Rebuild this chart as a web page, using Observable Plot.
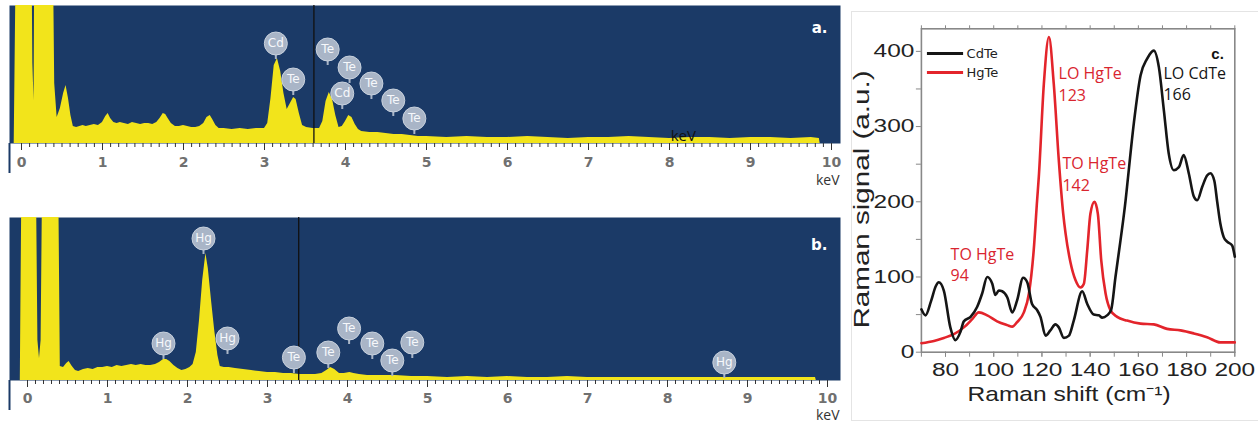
<!DOCTYPE html>
<html><head><meta charset="utf-8">
<script src="https://cdn.jsdelivr.net/npm/d3@7"></script>
<script src="https://cdn.jsdelivr.net/npm/@observablehq/plot@0.6"></script>
<style>
body{margin:0;background:#fff;}
#wrap{position:relative;width:1258px;height:427px;overflow:hidden;background:#fff;}
#wrap svg{position:absolute;}
#boxC{position:absolute;left:851px;top:11px;width:420px;height:408px;border:1px solid #e4e4e4;}
</style></head><body>
<div id="wrap"><div id="boxC"></div></div>
<script>
// ---------- DATA ----------
// EDS spectrum a (CdTe): [keV, counts]
const spectrumA = [[-0.09,0],[-0.05,300],[0.12,300],[0.14,80],[0.155,43],[0.17,300],[0.38,300],[0.41,60],[0.44,26],[0.48,35],[0.52,50],[0.55,58],[0.58,45],[0.61,28],[0.64,17],[0.68,16],[0.72,17],[0.76,18],[0.8,17],[0.85,18],[0.9,19],[0.95,18],[1.0,21],[1.04,27],[1.07,30],[1.1,25],[1.14,21],[1.18,20],[1.22,21],[1.27,20],[1.32,19],[1.37,21],[1.42,20],[1.47,19],[1.52,20],[1.57,20],[1.62,19],[1.67,21],[1.71,25],[1.75,30],[1.78,29],[1.81,25],[1.85,20],[1.9,17],[1.95,17],[2.0,18],[2.05,17],[2.1,16],[2.15,16],[2.2,17],[2.25,20],[2.29,26],[2.33,28],[2.36,24],[2.4,18],[2.44,15],[2.5,15],[2.6,14],[2.7,15],[2.8,14],[2.9,15],[3.0,15],[3.04,20],[3.08,45],[3.12,78],[3.16,85],[3.2,72],[3.24,50],[3.28,34],[3.32,40],[3.36,46],[3.39,44],[3.43,30],[3.47,18],[3.52,16],[3.6,15],[3.68,15],[3.72,22],[3.76,42],[3.8,51],[3.84,44],[3.88,28],[3.92,16],[3.96,17],[4.0,22],[4.04,28],[4.08,26],[4.12,19],[4.16,14],[4.2,12],[4.3,11],[4.4,11],[4.5,10],[4.6,9],[4.7,9],[4.8,8],[4.9,7],[5.0,7],[5.25,6],[5.5,7],[5.75,6],[6.0,6],[6.25,7],[6.5,6],[6.75,5],[7.0,6],[7.25,6],[7.5,7],[7.75,6],[8.0,5],[8.25,6],[8.5,6],[8.75,5],[9.0,6],[9.25,6],[9.5,5],[9.75,6],[9.85,5],[9.86,0]];
// EDS spectrum b (HgTe): [keV, counts]
const spectrumB = [[-0.09,0],[-0.06,300],[0.1,300],[0.13,40],[0.15,22],[0.17,40],[0.2,300],[0.38,300],[0.41,14],[0.45,13],[0.49,17],[0.52,19],[0.56,14],[0.6,10],[0.64,9],[0.7,11],[0.76,12],[0.82,11],[0.88,13],[0.94,13],[1.0,14],[1.06,13],[1.12,15],[1.18,14],[1.24,15],[1.3,16],[1.36,15],[1.42,16],[1.48,15],[1.54,15],[1.6,16],[1.65,18],[1.7,21],[1.74,21],[1.78,19],[1.83,15],[1.88,12],[1.93,10],[1.98,11],[2.03,13],[2.07,16],[2.11,28],[2.15,60],[2.19,100],[2.23,127],[2.26,112],[2.3,80],[2.34,50],[2.38,25],[2.41,14],[2.46,13],[2.52,13],[2.6,12],[2.7,11],[2.8,10],[2.9,9],[3.0,8],[3.1,8],[3.2,7],[3.3,7],[3.4,6],[3.5,6],[3.6,6],[3.68,7],[3.74,10],[3.79,13],[3.84,11],[3.9,7],[3.96,7],[4.03,8],[4.08,7],[4.15,6],[4.25,5],[4.4,5],[4.6,5],[4.8,4],[5.0,4],[5.25,3],[5.5,4],[5.75,3],[6.0,4],[6.25,3],[6.5,3],[6.75,4],[7.0,3],[7.25,3],[7.5,3],[7.75,3],[8.0,3],[8.25,3],[8.5,3],[8.75,3],[9.0,3],[9.25,3],[9.5,3],[9.85,3],[9.86,0]];
// element markers (badges)
const badgesA = [
  {el:"Cd", keV:3.14, level:100},
  {el:"Te", keV:3.355, level:64},
  {el:"Te", keV:3.78, level:94},
  {el:"Te", keV:4.05, level:76},
  {el:"Cd", keV:3.96, level:50},
  {el:"Te", keV:4.32, level:60},
  {el:"Te", keV:4.59, level:43},
  {el:"Te", keV:4.85, level:25}
];
const badgesB = [
  {el:"Hg", keV:1.7, level:37},
  {el:"Hg", keV:2.2, level:142},
  {el:"Hg", keV:2.5, level:42},
  {el:"Te", keV:3.33, level:23},
  {el:"Te", keV:3.76, level:28},
  {el:"Te", keV:4.02, level:52},
  {el:"Te", keV:4.31, level:37},
  {el:"Te", keV:4.56, level:20},
  {el:"Te", keV:4.81, level:38},
  {el:"Hg", keV:8.71, level:18}
];
const cursorA = [3.61];
const cursorB = [3.39];
const strayA = [{text:"keV", keV:8.17, level:7}];
const kevTicks = [0,1,2,3,4,5,6,7,8,9,10];
const kevMinor = d3.range(0, 100.5, 1).map(d => d / 10);

// Raman spectra: [shift cm-1, signal]
const ramanCdTe = [[70,57],[71.7,49],[74,68],[76,88],[77.2,93],[79.3,82],[82,33],[84.1,16],[86.2,27],[87.6,41],[90.4,47],[93.1,60],[95.2,78],[97.3,100],[99.4,91],[100.7,76],[102.1,82],[103.5,81],[105.6,73],[107.7,53],[109.7,69],[112.2,99],[113.9,93],[115.9,64],[118,56],[119.4,47],[121.5,22],[123.5,29],[125.6,37],[127,33],[129.1,19],[131.2,22],[133.2,42],[136.7,81],[138.8,64],[141.5,50],[143.6,49],[145,46],[147,49],[148.7,56],[150.5,100],[152.6,149],[154.7,202],[155.3,220],[158.1,304],[160.9,368],[163.6,390],[166.4,401],[168.5,379],[170.6,321],[172.6,264],[174.7,242],[176.8,246],[178.8,262],[180.9,238],[183,207],[184.4,202],[186.5,220],[188.5,235],[189.9,238],[191.5,228],[192.7,200],[194,171],[195.4,153],[196.8,147],[198.9,142],[200,127]];
const ramanHgTe = [[70,12],[75.2,15],[79.3,19],[83.5,24],[87.6,33],[91.1,44],[93.8,53],[97.3,49],[101.4,41],[105.6,36],[107.7,34],[109.7,40],[112.5,53],[114.6,78],[116.6,136],[118,202],[118.7,233],[120.8,357],[122.9,419],[124.9,357],[127,255],[128.8,185],[129.8,158],[131.8,120],[133.9,96],[136,86],[137.4,91],[138.8,136],[140.1,184],[141.8,200],[143.2,184],[144.6,122],[146.4,78],[148.4,56],[151.2,47],[155.3,42],[160.9,38],[166.4,37],[171.9,31],[177.5,29],[183,25],[188.5,20],[194,13],[200,13]];
const ramanNotes = [
  {label:"LO HgTe\n123", x:126.9, y:357.7, color:"#d9252f"},
  {label:"TO HgTe\n142", x:128.5, y:238.1, color:"#d9252f"},
  {label:"TO HgTe\n94", x:82.1, y:117.9, color:"#d9252f"},
  {label:"LO CdTe\n166", x:170.4, y:358.4, color:"#151515"}
];
const ramanLegend = [
  {name:"CdTe", color:"#151515", y:397, x1:72.5, x2:87.5},
  {name:"HgTe", color:"#e3242b", y:372, x1:72.5, x2:87.5}
];
const ramanXTicks = [80,100,120,140,160,180,200];
const ramanXMinor = d3.range(70, 201, 10);
const ramanYTicks = [0,100,200,300,400];
const ramanYMinor = [50,150,250,350];

// ---------- STYLE ----------
const BLUE = "#1b3a67", YELLOW = "#f2e41b", BADGE = "#a9b5c7";

function edsPanel({spectrum, badges, cursor, xDomain, yDomain, height, marginTop, marginBottom, tag, tagDy, keVDy, tickPad, extra = []}) {
  const data = spectrum.map(([k, c]) => ({keV: k, cnt: c}));
  return Plot.plot({
    width: 840, height, marginLeft: 9, marginRight: 0, marginTop, marginBottom,
    x: {domain: xDomain},
    y: {domain: yDomain, axis: null},
    style: {fontFamily: "DejaVu Sans, sans-serif", background: "transparent", overflow: "visible"},
    marks: [
      Plot.frame({fill: BLUE, stroke: null}),
      Plot.areaY(data, {x: "keV", y: "cnt", fill: YELLOW, curve: "linear", clip: true}),
      Plot.ruleX(cursor, {x: d => d, stroke: "#111", strokeWidth: 1.3}),
      Plot.axisX({ticks: kevMinor, tickSize: 4, tickFormat: () => "", stroke: "#333", label: null}),
      Plot.axisX({ticks: kevTicks, tickSize: 7, tickPadding: tickPad, fontSize: 14, fontWeight: "bold", fill: "#707070", stroke: "#333", label: null}),
      Plot.ruleX([xDomain[0]], {x: d => d, y1: 0, y2: -yDomain[1] * 30 / (height - marginTop - marginBottom), stroke: BLUE, strokeWidth: 2}),
      Plot.ruleX(badges, {x: "keV", y1: "level", y2: d => d.level - 16, stroke: BADGE, strokeWidth: 2}),
      Plot.dot(badges, {x: "keV", y: "level", r: 11.5, fill: BADGE, stroke: "#c8d1dd", strokeWidth: 1}),
      Plot.text(badges, {x: "keV", y: "level", text: "el", fill: "#f6f8fb", fontSize: 12}),
      ...extra,
      Plot.text([tag], {text: d => d, frameAnchor: "top-right", dx: -13, dy: tagDy, fill: "#fff", fontWeight: "bold", fontSize: 15, textAnchor: "end"}),
      Plot.text(["keV"], {text: d => d, frameAnchor: "bottom-right", dx: -1, dy: keVDy, fill: "#333", fontSize: 14, fontFamily: "Open Sans, sans-serif", textAnchor: "end"})
    ]
  });
}

const plotA = edsPanel({
  spectrum: spectrumA, badges: badgesA, cursor: cursorA,
  xDomain: [-12 / 81, 819 / 81], yDomain: [0, 138], height: 190, marginTop: 5, marginBottom: 47,
  tag: "a.", tagDy: 17, keVDy: 41, tickPad: 7,
  extra: [Plot.text(strayA, {x: "keV", y: "level", text: "text", fill: "#111", fontSize: 15, fontFamily: "Open Sans, sans-serif"})]
});
plotA.style.left = "0px"; plotA.style.top = "0px";

const plotB = edsPanel({
  spectrum: spectrumB, badges: badgesB, cursor: cursorB,
  xDomain: [-18 / 80, 813 / 80], yDomain: [0, 163], height: 227, marginTop: 17, marginBottom: 47,
  tag: "b.", tagDy: 22, keVDy: 39, tickPad: 6
});
plotB.style.left = "0px"; plotB.style.top = "200px";

const red = "#e3242b", blk = "#151515";
const plotC = Plot.plot({
  width: 418, height: 427,
  marginLeft: 80.9, marginRight: 23.7, marginTop: 28.3, marginBottom: 75.3,
  x: {domain: [70, 200]},
  y: {domain: [0, 430]},
  color: {type: "identity"},
  style: {fontFamily: "Liberation Sans, Arial, sans-serif", background: "transparent", overflow: "visible"},
  marks: [
    Plot.axisX({ticks: ramanXMinor, tickSize: 5, tickFormat: () => "", stroke: "#888", label: null}),
    Plot.axisX({ticks: ramanXTicks, tickSize: 5, tickPadding: 6, fontSize: 18, fill: "#222", stroke: "#888", label: null}),
    Plot.axisX({anchor: "top", ticks: ramanXMinor, tickSize: 4, tickFormat: () => "", stroke: "#888", label: null}),
    Plot.axisY({ticks: ramanYMinor, tickSize: 5, tickFormat: () => "", stroke: "#888", label: null}),
    Plot.axisY({ticks: ramanYTicks, tickSize: 5, tickPadding: 2, fontSize: 18, fill: "#222", stroke: "#888", label: null}),
    Plot.frame({stroke: "#888", strokeWidth: 1.6}),
    Plot.line(ramanHgTe, {x: d => d[0], y: d => d[1], stroke: red, strokeWidth: 2.6, curve: "monotone-x"}),
    Plot.line(ramanCdTe, {x: d => d[0], y: d => d[1], stroke: blk, strokeWidth: 2.6, curve: "monotone-x"}),
    Plot.ruleY(ramanLegend, {y: "y", x1: "x1", x2: "x2", stroke: "color", strokeWidth: 3}),
    Plot.text(ramanLegend, {x: "x2", y: "y", text: "name", dx: 3, textAnchor: "start", fill: "#222", fontSize: 13, fontFamily: "DejaVu Sans, sans-serif"}),
    Plot.text(ramanNotes, {x: "x", y: "y", text: "label", fill: "color", textAnchor: "start", lineHeight: 1.35, fontSize: 16, fontFamily: "Open Sans, sans-serif"}),
    Plot.text(["c."], {text: d => d, frameAnchor: "top-right", dx: -11, dy: 20, textAnchor: "end", fontWeight: "bold", fontSize: 15, fill: "#111"}),
    Plot.text(["Raman signal (a.u.)"], {text: d => d, frameAnchor: "left", rotate: -90, dx: -59, dy: 138, textAnchor: "start", fontSize: 22, fill: "#222"}),
    Plot.text(["Raman shift (cm⁻¹)"], {text: d => d, frameAnchor: "bottom", dx: -9, dy: 49, fontSize: 21, fill: "#222"})
  ]
});
plotC.style.left = "840px"; plotC.style.top = "0px";

// stretch text like the reference (wide rendering)
for (const t of plotC.querySelectorAll("text")) {
  const s = t.textContent;
  if (s === "Raman signal (a.u.)") { t.setAttribute("textLength", 258); t.setAttribute("lengthAdjust", "spacingAndGlyphs"); }
  if (s === "Raman shift (cm⁻¹)") { t.setAttribute("textLength", 203); t.setAttribute("lengthAdjust", "spacingAndGlyphs"); }
}
for (const t of plotC.querySelectorAll('g[aria-label="x-axis tick label"] text, g[aria-label="y-axis tick label"] text')) {
  const s = t.textContent;
  if (s.length) { t.setAttribute("textLength", s.length * 13.6); t.setAttribute("lengthAdjust", "spacingAndGlyphs"); }
}

const wrap = document.getElementById("wrap");
wrap.append(plotA, plotB, plotC);
</script>
</body></html>
